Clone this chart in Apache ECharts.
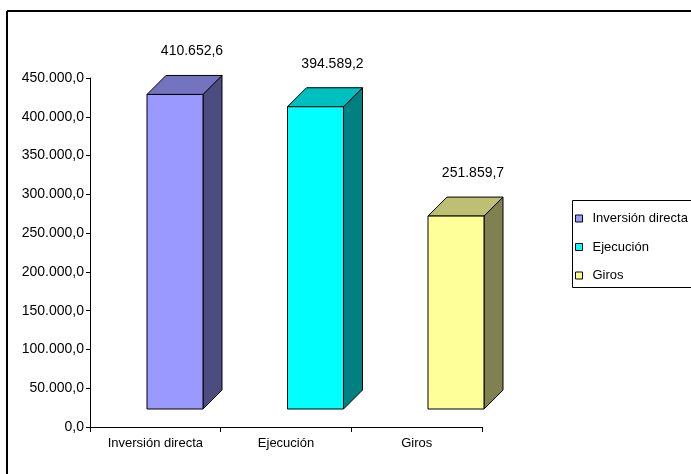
<!DOCTYPE html>
<html>
<head>
<meta charset="utf-8">
<script src="https://cdn.jsdelivr.net/npm/echarts@6/dist/echarts.min.js"></script>
<style>html,body{margin:0;padding:0;background:#fff}#c{width:691px;height:474px}</style>
</head>
<body>
<div id="c"></div>
<script>
const categories = ['Inversión directa', 'Ejecución', 'Giros'];
const values = [410652.6, 394589.2, 251859.7];
const frontColors = ['#9999FF', '#00FFFF', '#FFFF99'];
const topColors = ['#7373BF', '#00BFBF', '#BFBF73'];
const sideColors = ['#4C4C80', '#008080', '#808050'];
const yMin = 0, yMax = 450000, yStep = 50000;

const FONT = '"Liberation Sans", Arial, sans-serif';

function fmt(v) {
  const s = v.toFixed(1).split('.');
  const intPart = s[0].replace(/\B(?=(\d{3})+(?!\d))/g, '.');
  return intPart + ',' + s[1];
}

function renderItem(params, api) {
  const idx = api.value(0), v = api.value(1);
  const top = api.coord([idx, v]);
  const base = api.coord([idx, 0]);
  const w = 56, d = 19;
  const si = params.seriesIndex;
  const x0 = top[0] - w / 2, x1 = top[0] + w / 2, y0 = top[1], y1 = base[1];
  const line = { stroke: '#000', lineWidth: 1 };
  return {
    type: 'group',
    children: [
      { type: 'polygon', shape: { points: [[x1, y0], [x1 + d, y0 - d], [x1 + d, y1 - d], [x1, y1]] },
        style: Object.assign({ fill: sideColors[si] }, line) },
      { type: 'polygon', shape: { points: [[x0, y0], [x0 + d, y0 - d], [x1 + d, y0 - d], [x1, y0]] },
        style: Object.assign({ fill: topColors[si] }, line) },
      { type: 'rect', shape: { x: x0, y: y0, width: w, height: y1 - y0 },
        style: Object.assign({ fill: frontColors[si] }, line) },
      { type: 'text', x: top[0] + 17, y: y0 - d - 24,
        style: { text: fmt(v), fill: '#000', font: '14px ' + FONT, align: 'center', verticalAlign: 'middle' } }
    ]
  };
}

const series = categories.map((name, i) => ({
  type: 'custom',
  name: name,
  xAxisIndex: 1,
  yAxisIndex: 1,
  renderItem: renderItem,
  itemStyle: { color: frontColors[i] },
  data: [[i, values[i]]],
  silent: true,
  animation: false
}));

const chart = echarts.init(document.getElementById('c'), null, { renderer: 'canvas' });
chart.setOption({
  animation: false,
  backgroundColor: '#fff',
  textStyle: { fontFamily: FONT },
  grid: [
    { left: 90, right: 209, top: 78, bottom: 47, containLabel: false },
    { left: 104.75, right: 164.75, top: 64.3, bottom: 65, containLabel: false }
  ],
  xAxis: [
    { type: 'category', gridIndex: 0, data: categories, boundaryGap: true,
      axisLine: { show: true, lineStyle: { color: '#000', width: 1 } },
      axisTick: { show: true, length: 5, alignWithLabel: false, lineStyle: { color: '#000' } },
      axisLabel: { color: '#000', fontSize: 13, fontFamily: FONT, margin: 10, interval: 0 },
      splitLine: { show: false } },
    { type: 'category', gridIndex: 1, data: categories, show: false }
  ],
  yAxis: [
    { type: 'value', gridIndex: 0, min: yMin, max: yMax, interval: yStep,
      axisLine: { show: true, lineStyle: { color: '#000', width: 1 } },
      axisTick: { show: true, length: 4, lineStyle: { color: '#000' } },
      axisLabel: { color: '#000', fontSize: 14, fontFamily: FONT, margin: 6, formatter: v => fmt(v) },
      splitLine: { show: false } },
    { type: 'value', gridIndex: 1, min: yMin, max: yMax, show: false }
  ],
  legend: {
    orient: 'vertical', left: 575, top: 211, padding: 0,
    icon: 'rect', itemWidth: 7, itemHeight: 7, itemGap: 13.5,
    itemStyle: { borderColor: '#000', borderWidth: 1 },
    textStyle: { color: '#000', fontSize: 13, fontFamily: FONT, lineHeight: 15, padding: [0, 0, 0, 5] },
    data: categories,
    selectedMode: false
  },
  graphic: [
    { type: 'rect', z: -1, shape: { x: 572.5, y: 200.5, width: 200, height: 87 },
      style: { fill: '#fff', stroke: '#000', lineWidth: 1 } },
    { type: 'line', shape: { x1: 7, y1: 11, x2: 691, y2: 11 }, style: { stroke: '#000', lineWidth: 2 } },
    { type: 'line', shape: { x1: 7, y1: 11, x2: 7, y2: 474 }, style: { stroke: '#000', lineWidth: 2 } }
  ],
  series: series
});
</script>
</body>
</html>
